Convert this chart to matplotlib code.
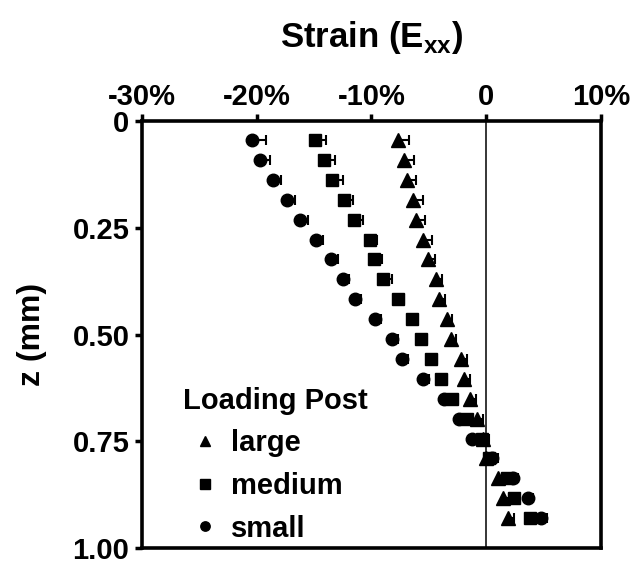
import numpy as np
import matplotlib
matplotlib.use('Agg')
import matplotlib.pyplot as plt
from matplotlib.lines import Line2D

plt.rcParams['font.family'] = ['Liberation Sans', 'DejaVu Sans']
plt.rcParams['font.weight'] = 'bold'
plt.rcParams['mathtext.fontset'] = 'custom'
plt.rcParams['mathtext.rm'] = 'Liberation Sans:bold'
plt.rcParams['mathtext.bf'] = 'Liberation Sans:bold'

# depth below surface (mm)
z = [0.045, 0.091, 0.138, 0.184, 0.231, 0.278, 0.324, 0.371, 0.417, 0.464,
     0.511, 0.557, 0.604, 0.650, 0.697, 0.744, 0.790, 0.837, 0.883, 0.930]

# strain E_xx (%) for each loading post
large = [-7.7, -7.2, -6.9, -6.4, -6.1, -5.5, -5.1, -4.4, -4.1, -3.4,
         -3.1, -2.2, -1.9, -1.4, -0.8, -0.3, 0.0, 1.0, 1.5, 1.9]
medium = [-14.9, -14.1, -13.4, -12.4, -11.5, -10.1, -9.8, -9.0, -7.7, -6.5,
          -5.7, -4.8, -3.9, -3.0, -1.7, -0.4, 0.2, 1.8, 2.4, 3.8]
small = [-20.4, -19.7, -18.6, -17.4, -16.2, -14.8, -13.5, -12.5, -11.4, -9.7,
         -8.2, -7.3, -5.5, -3.7, -2.4, -1.2, 0.5, 2.3, 3.6, 4.8]

# one-sided (positive) error bars, %
large_err = [1.0, 0.9, 0.8, 0.9, 0.8, 0.75, 0.6, 0.55, 0.5, 0.45,
             0.5, 0.5, 0.5, 0.5, 0.5, 0.5, 0.5, 0.5, 0.5, 0.5]
medium_err = [0.9, 0.9, 0.9, 0.8, 0.8, 0.6, 0.75, 0.75, 0.5, 0.45,
              0.5, 0.5, 0.5, 0.5, 0.5, 0.5, 0.5, 0.5, 0.5, 0.5]
small_err = [1.2, 0.9, 0.7, 0.7, 0.7, 0.6, 0.6, 0.55, 0.5, 0.5,
             0.5, 0.5, 0.5, 0.5, 0.5, 0.5, 0.5, 0.5, 0.5, 0.5]

xticks = [-30, -20, -10, 0, 10]
xticklabels = ['-30%', '-20%', '-10%', '0', '10%']
yticks = [0, 0.25, 0.5, 0.75, 1.0]
yticklabels = ['0', '0.25', '0.50', '0.75', '1.00']

fig = plt.figure(figsize=(6.33, 5.69), dpi=100)
ax = fig.add_axes([0.2243, 0.0369, 0.7251, 0.7504])

ax.axvline(0, color='black', lw=1.1, zorder=1)

series = [(large, large_err, '^', 10, 'large'),
          (medium, medium_err, 's', 9, 'medium'),
          (small, small_err, 'o', 9, 'small')]
for vals, err, mk, ms, lab in series:
    err_lo = np.zeros(len(err))
    ax.errorbar(vals, z, xerr=[err_lo, err], fmt=mk, ms=ms, color='black',
                mec='black', ecolor='black', elinewidth=1.5, capsize=3.5,
                capthick=1.5, zorder=3)

ax.set_xlim(-30, 10)
ax.set_ylim(1.0, 0)
ax.set_xticks(xticks)
ax.set_xticklabels(xticklabels)
ax.set_yticks(yticks)
ax.set_yticklabels(yticklabels)

ax.xaxis.tick_top()
ax.xaxis.set_label_position('top')
ax.tick_params(axis='both', direction='out', length=5, width=2.5,
               labelsize=21)
ax.tick_params(axis='x', pad=2)
ax.tick_params(axis='y', pad=4)
for sp in ax.spines.values():
    sp.set_linewidth(2.6)

ax.set_xlabel(r'Strain (E$_\mathrm{xx}$)', fontsize=25, fontweight='bold', labelpad=26)
ax.set_ylabel('z (mm)', fontsize=23, fontweight='bold', labelpad=18)

handles = [Line2D([], [], ls='none', marker=m, ms=s * 0.75, color='black')
           for _, _, m, s, _ in series]
labels = [s[4] for s in series]
leg = ax.legend(handles, labels, title='Loading Post', loc='lower left',
                bbox_to_anchor=(0.045, -0.035), frameon=False, fontsize=21,
                title_fontproperties={'size': 21, 'weight': 'bold'},
                alignment='left', handlelength=1.5, handletextpad=0.15,
                labelspacing=0.5, borderpad=0.2)

fig.savefig('out.png', dpi=100)
